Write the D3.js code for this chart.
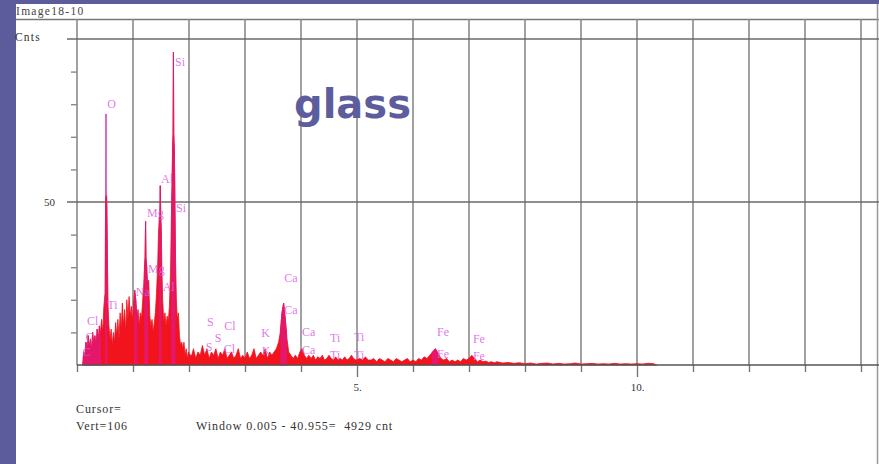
<!DOCTYPE html>
<html>
<head>
<meta charset="utf-8">
<script src="https://cdn.jsdelivr.net/npm/d3@7"></script>
<style>
  html, body { margin: 0; padding: 0; background: #5c5c9c; }
  svg { display: block; }
</style>
</head>
<body>
<svg id="chart" width="879" height="464"></svg>
<script>
// ---------------- DATA ----------------
const titleText = "Image18-10";
const yAxisLabel = "Cnts";
const annotation = "glass";
const xTickValues = [0,1,2,3,4,5,6,7,8,9,10,11,12,13,14];
const xTickLabels = {5: "5.", 10: "10."};
const yMinorTicks = [10,20,30,40,60,70,80,90];
const yMajorLines = [50,100];
const yTickLabels = [50];
const footerLines = ["Cursor=", "Vert=106"];
const footerWindow = "Window 0.005 - 40.955=  4929 cnt";

// spectrum: [keV, counts]
const spectrum = [
 [0.10,0],[0.12,4],[0.14,2],[0.16,7],[0.18,3],[0.20,9],[0.22,5],[0.24,8],[0.26,4],[0.28,10],
 [0.30,6],[0.32,9],[0.34,5],[0.36,11],[0.38,7],[0.40,12],[0.42,9],[0.44,14],[0.46,10],[0.48,18],
 [0.50,22],[0.505,35],[0.51,48],[0.515,52],[0.522,77],[0.528,52],[0.535,48],[0.545,30],[0.555,18],[0.57,12],[0.59,8],
 [0.61,11],[0.63,6],[0.65,10],[0.67,7],[0.69,13],[0.71,9],[0.73,14],[0.75,8],[0.77,16],[0.79,11],
 [0.81,19],[0.83,12],[0.85,17],[0.87,10],[0.89,20],[0.91,14],[0.93,21],[0.95,15],[0.97,18],[0.99,13],
 [1.01,19],[1.03,23],[1.05,20],[1.07,14],[1.09,17],[1.11,12],[1.13,16],[1.15,14],[1.17,19],[1.19,24],
 [1.205,30],[1.215,33],[1.225,44],[1.232,33],[1.245,30],[1.26,24],[1.28,26],[1.30,15],[1.32,12],[1.34,14],[1.36,10],[1.38,13],
 [1.40,16],[1.42,22],[1.44,30],[1.455,40],[1.47,45],[1.48,47],[1.487,55],[1.494,47],[1.505,42],[1.515,30],[1.53,20],[1.55,13],
 [1.57,16],[1.59,12],[1.61,15],[1.63,13],[1.65,18],[1.67,28],[1.685,45],[1.697,55],[1.707,66],[1.715,71],[1.722,96],
 [1.728,71],[1.738,66],[1.748,53],[1.76,32],[1.775,20],[1.79,14],[1.81,16],[1.83,9],[1.85,6],[1.87,7],[1.89,5],[1.91,7],
 [1.93,3],[1.95,5],[1.97,2],[1.99,4],[2.02,3],[2.05,3],[2.08,5],[2.12,2],[2.16,4],[2.20,3],
 [2.24,6],[2.28,3],[2.32,5],[2.36,2],[2.40,4],[2.44,3],[2.48,5],[2.52,2],[2.56,4],[2.60,3],
 [2.64,5],[2.68,2],[2.72,3],[2.76,4],[2.80,2],[2.84,3],[2.88,5],[2.92,2],[2.96,3],[3.00,2],
 [3.04,4],[3.08,2],[3.12,3],[3.16,5],[3.20,2],[3.24,3],[3.28,4],[3.32,3],[3.36,5],[3.40,2],
 [3.44,4],[3.48,3],[3.52,4],[3.56,5],[3.60,7],[3.63,10],[3.66,16],[3.69,19],[3.72,14],[3.75,8],
 [3.78,4],[3.82,3],[3.86,2],[3.90,3],[3.94,2],[3.98,4],[4.02,5],[4.06,3],[4.10,2],[4.14,3],
 [4.18,2],[4.22,3],[4.26,1.5],[4.30,2.5],[4.34,2],[4.38,3],[4.42,1.5],[4.46,2],[4.50,3],[4.54,2],
 [4.58,1.5],[4.62,2.5],[4.66,1.5],[4.70,2],[4.74,1.5],[4.78,2.5],[4.82,1.5],[4.86,2],[4.90,3],[4.94,2],
 [4.98,1.5],[5.05,2],[5.10,1.5],[5.15,2.5],[5.20,1.5],[5.25,1.5],[5.30,2],[5.35,1],[5.40,2],[5.45,1.5],
 [5.50,1],[5.55,2],[5.60,1.5],[5.65,1],[5.70,2],[5.75,1.5],[5.80,1],[5.85,1.5],[5.90,2],[5.95,1],
 [6.00,1.5],[6.05,1],[6.10,2],[6.15,1.5],[6.20,2.5],[6.25,2],[6.30,3],[6.35,4],[6.40,5],[6.45,3.5],
 [6.50,2],[6.55,1.5],[6.60,2],[6.65,1],[6.70,1.5],[6.75,1],[6.80,1.5],[6.85,1],[6.90,2],[6.95,1.5],
 [7.00,2],[7.05,3],[7.10,2],[7.15,1],[7.20,1.5],[7.25,1],[7.30,1.2],[7.35,0.8],[7.40,1],[7.45,0.7],
 [7.50,1],[7.60,0.6],[7.70,0.8],[7.80,0.5],[7.90,0.7],[8.00,0.4],[8.10,0.6],[8.20,0.3],[8.30,0.5],[8.40,0.6],
 [8.50,0.3],[8.60,0.5],[8.70,0.3],[8.80,0.4],[8.90,0.6],[9.00,0.3],[9.10,0.4],[9.20,0.5],[9.30,0.3],[9.40,0.4],
 [9.50,0.3],[9.60,0.5],[9.70,0.3],[9.80,0.4],[9.90,0.3],[10.0,0.4],[10.1,0.3],[10.2,0.5],[10.3,0.4],[10.35,0]
];

// peak regions (keV) coloured as identified-line ROIs
const roiRanges = [[0.10,0.43],[0.50,0.545],[1.02,1.08],[1.20,1.27],[1.46,1.51],[1.68,1.76],[3.63,3.75],[6.33,6.46]];

// identified line marker above the O peak: [keV, from counts, to counts]
const markerLines = [[0.522, 52, 77]];

// element labels: [text, keV, counts]
const elementLabels = [
 ["Cl",0.18,13.4],["C",0.15,8.5],["C",0.10,4],["Ti",0.54,18.3],["O",0.54,80],
 ["Na",1.05,22.3],["Mg",1.25,46.6],["Mg",1.27,29.6],["Al",1.53,23.8],["Al",1.50,57],
 ["Si",1.75,93],["Si",1.77,48.2],["S",2.32,13.1],["S",2.46,8.2],["S",2.30,5.5],
 ["Cl",2.63,11.9],["Cl",2.62,5.0],["K",3.29,9.8],["K",3.30,4.3],["Ca",3.70,26.8],
 ["Ca",3.70,17],["Ca",4.02,10],["Ca",4.02,4.6],["Ti",4.52,8.2],["Ti",4.95,8.5],
 ["Ti",4.52,3.0],["Ti",4.95,3.0],["Fe",6.43,10],["Fe",6.43,3.4],["Fe",7.07,7.9],["Fe",7.07,2.7]
];

// ---------------- DRAWING ----------------
const svg = d3.select("#chart");
const W = 879, H = 464;
const frameColor = "#5c5c9c";
const gridColor = "#8a8a8a";
const serif = "'Liberation Serif', 'DejaVu Serif', serif";

svg.append("rect").attr("width", W).attr("height", H).attr("fill", frameColor);
svg.append("rect").attr("x", 16).attr("y", 4).attr("width", W - 16).attr("height", H - 4).attr("fill", "#ffffff");

const x = d3.scaleLinear().domain([0, 14]).range([77, 861]);
const y = d3.scaleLinear().domain([0, 100]).range([365, 39]);

// title bar
svg.append("line").attr("x1", 16).attr("x2", W).attr("y1", 19.5).attr("y2", 19.5)
  .attr("stroke", "#777").attr("stroke-width", 1.5);
svg.append("text").attr("x", 16).attr("y", 15).text(titleText)
  .attr("font-family", serif).attr("font-size", 11.5).attr("letter-spacing", 1.3).attr("fill", "#444");
// right border
svg.append("line").attr("x1", 877.5).attr("x2", 877.5).attr("y1", 4).attr("y2", H)
  .attr("stroke", "#999").attr("stroke-width", 1.5);

// vertical grid
svg.append("g").selectAll("line").data(xTickValues).join("line")
  .attr("x1", d => x(d)).attr("x2", d => x(d))
  .attr("y1", 19).attr("y2", y(0))
  .attr("stroke", gridColor).attr("stroke-width", 1.6);

// horizontal major lines
svg.append("g").selectAll("line").data(yMajorLines).join("line")
  .attr("x1", 67).attr("x2", W)
  .attr("y1", d => y(d)).attr("y2", d => y(d))
  .attr("stroke", "#6a6a6a").attr("stroke-width", 1.6);

// y minor ticks
const yAxis = d3.axisLeft(y).tickValues(yMinorTicks).tickSize(6).tickFormat("");
const gy = svg.append("g").attr("transform", `translate(${x(0)},0)`).call(yAxis);
gy.select(".domain").remove();
gy.selectAll(".tick line").attr("stroke", gridColor).attr("stroke-width", 1.4);

// y labels
svg.append("g").selectAll("text").data(yTickLabels).join("text")
  .attr("x", 55).attr("y", d => y(d) + 4).attr("text-anchor", "end")
  .attr("font-family", serif).attr("font-size", 11).attr("fill", "#333").text(d => d);
svg.append("text").attr("x", 15).attr("y", 41).text(yAxisLabel)
  .attr("font-family", serif).attr("font-size", 11.5).attr("letter-spacing", 1.2).attr("fill", "#333");

// spectrum area
const area = d3.area().x(d => x(d[0])).y0(y(0)).y1(d => y(d[1])).curve(d3.curveLinear);
svg.append("path").datum(spectrum).attr("d", area)
  .attr("fill", "#f2141c").attr("stroke", "#ee1020").attr("stroke-width", 0.8);

// ROI overlay
const defs = svg.append("defs");
const clip = defs.append("clipPath").attr("id", "roiClip");
clip.selectAll("rect").data(roiRanges).join("rect")
  .attr("x", d => x(d[0])).attr("width", d => x(d[1]) - x(d[0]))
  .attr("y", 0).attr("height", H);
svg.append("path").datum(spectrum).attr("d", area)
  .attr("clip-path", "url(#roiClip)")
  .attr("fill", "#e4176a").attr("stroke", "#e4176a").attr("stroke-width", 0.8);

// marker lines
svg.append("g").selectAll("line").data(markerLines).join("line")
  .attr("x1", d => x(d[0])).attr("x2", d => x(d[0]))
  .attr("y1", d => y(d[1])).attr("y2", d => y(d[2]))
  .attr("stroke", "#d070e0").attr("stroke-width", 1.6);

// baseline + x axis ticks
const xAxis = d3.axisBottom(x).tickValues(xTickValues)
  .tickSize(7).tickFormat(d => xTickLabels[d] || "");
const gx = svg.append("g").attr("transform", `translate(0,${y(0)})`).call(xAxis);
gx.select(".domain").remove();
gx.selectAll(".tick line").attr("stroke", "#777").attr("stroke-width", 1.4)
  .attr("y2", d => xTickLabels[d] ? 12 : 7);
gx.selectAll(".tick text").attr("font-family", serif).attr("font-size", 11)
  .attr("fill", "#333").attr("y", 18);
svg.append("line").attr("x1", x(0)).attr("x2", W).attr("y1", y(0)).attr("y2", y(0))
  .attr("stroke", "#555").attr("stroke-width", 1.5);

// element labels
svg.append("g").selectAll("text").data(elementLabels).join("text")
  .attr("x", d => x(d[1])).attr("y", d => y(d[2]) + 4)
  .attr("font-family", serif).attr("font-size", 12)
  .attr("fill", "#d860e0").attr("fill-opacity", 0.85)
  .text(d => d[0]);

// annotation
svg.append("text").attr("x", 294).attr("y", 118).text(annotation)
  .attr("font-family", "'DejaVu Sans', sans-serif").attr("font-weight", "bold")
  .attr("font-size", 40).attr("fill", "#5d5d9e");

// footer
svg.append("g").selectAll("text").data(footerLines).join("text")
  .attr("x", 76).attr("y", (d, i) => 413 + i * 17)
  .attr("font-family", serif).attr("font-size", 12).attr("letter-spacing", 0.9)
  .attr("fill", "#333").text(d => d);
svg.append("text").attr("x", 196).attr("y", 430).text(footerWindow)
  .attr("font-family", serif).attr("font-size", 12).attr("letter-spacing", 0.9)
  .attr("fill", "#333").style("white-space", "pre");
</script>
</body>
</html>
